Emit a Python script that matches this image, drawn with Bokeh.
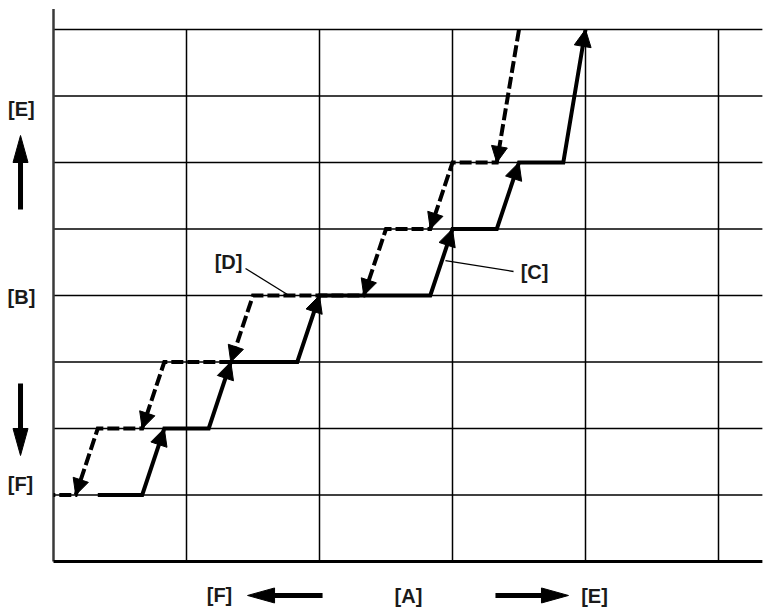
from bokeh.plotting import figure
from bokeh.models import Range1d, ColumnDataSource, Arrow, NormalHead, Label
from bokeh.embed import file_html
from bokeh.resources import INLINE

# ---- data (grid units) ----
x_grid = [1, 2, 3, 4, 5]
y_grid = [1, 2, 3, 4, 5, 6, 7, 8]
x_end = 5.33
y_top = 8.31

# solid curve [C] (rising)
solid_x = [0.333, 0.667, 0.833, 1.167, 1.333, 1.833, 2.0, 2.833, 3.0, 3.333, 3.5, 3.833, 4.0]
solid_y = [1, 1, 2, 2, 3, 3, 4, 4, 5, 5, 6, 6, 8]

# dashed curve [D] (falling)
dash_x = [3.5, 3.333, 3.0, 2.833, 2.5, 2.333, 1.5, 1.333, 0.833, 0.667, 0.333, 0.167, 0.0]
dash_y = [8, 6, 6, 5, 5, 4, 4, 3, 3, 2, 2, 1, 1]

side_labels = ["[E]", "[B]", "[F]"]
bottom_labels = ["[F]", "[A]", "[E]"]

# pixel scale (px per unit)
PX_X = 133.0
PX_Y = 66.5
W, H = 768, 610

p = figure(width=W, height=H,
           x_range=Range1d(-53 / PX_X, (W - 53) / PX_X),
           y_range=Range1d((561 - H) / PX_Y, 561 / PX_Y),
           x_axis_type=None, y_axis_type=None,
           toolbar_location=None, output_backend="svg",
           min_border=0)
p.outline_line_color = None
p.grid.visible = False
p.background_fill_color = "white"
p.border_fill_color = "white"

# grid lines
p.segment(x0=[0] * len(y_grid), y0=y_grid, x1=[x_end] * len(y_grid), y1=y_grid,
          line_color="black", line_width=1.5)
p.segment(x0=x_grid, y0=[0] * len(x_grid), x1=x_grid, y1=[y_grid[-1]] * len(x_grid),
          line_color="black", line_width=1.5)
# axes
p.segment(x0=[0], y0=[0], x1=[0], y1=[y_top], line_color="#3a3a3a", line_width=2.5)
p.segment(x0=[0], y0=[0], x1=[x_end], y1=[0], line_color="black", line_width=3)

# curves
p.line(dash_x, dash_y, line_color="black", line_width=4, line_dash="12 4", line_join="miter")
p.line(solid_x, solid_y, line_color="black", line_width=4, line_join="miter")

def segs(xs, ys, rising):
    d = dict(x0=[], y0=[], x1=[], y1=[])
    for i in range(len(xs) - 1):
        if ys[i + 1] != ys[i] and ((ys[i + 1] > ys[i]) == rising):
            d["x0"].append(xs[i]); d["y0"].append(ys[i])
            d["x1"].append(xs[i + 1]); d["y1"].append(ys[i + 1])
    return ColumnDataSource(d)

for src, size in ((segs(solid_x, solid_y, True), 17), (segs(dash_x, dash_y, False), 16)):
    p.add_layout(Arrow(end=NormalHead(size=size, fill_color="black", line_color="black", line_width=1),
                       x_start="x0", y_start="y0", x_end="x1", y_end="y1",
                       source=src, line_alpha=0))

# leader lines
p.segment(x0=[1.444, 2.947], y0=[4.406, 4.526], x1=[1.759, 3.459], y1=[4.015, 4.361],
          line_color="black", line_width=1.3)

def txt(x, y, s):
    p.add_layout(Label(x=x, y=y, text=s, text_font="Liberation Sans", text_font_style="bold",
                       text_font_size="20px", text_align="center", text_baseline="middle",
                       text_color="#1a1a1a"))

txt(1.316, 4.511, "[D]")
txt(3.617, 4.346, "[C]")
txt(-0.241, 6.797, side_labels[0])
txt(-0.241, 3.97, side_labels[1])
txt(-0.248, 1.158, side_labels[2])
txt(1.248, -0.511, bottom_labels[0])
txt(2.669, -0.526, bottom_labels[1])
txt(4.068, -0.526, bottom_labels[2])

# direction arrows (shaft + triangle head, sizes in px)
def big_arrow(x_tail, y_tail, x_tip, y_tip, length=27, width=15):
    dxp = (x_tip - x_tail) * PX_X
    dyp = (y_tip - y_tail) * PX_Y
    n = (dxp ** 2 + dyp ** 2) ** 0.5
    ux, uy = dxp / n, dyp / n
    bx, by = -ux * length, -uy * length
    px, py = -uy * width / 2, ux * width / 2
    xb = x_tip + bx / PX_X
    yb = y_tip + by / PX_Y
    p.segment(x0=[x_tail], y0=[y_tail], x1=[xb], y1=[yb], line_color="black", line_width=5)
    p.patch([x_tip, xb + px / PX_X, xb - px / PX_X], [y_tip, yb + py / PX_Y, yb - py / PX_Y],
            fill_color="black", line_color="black", line_width=1)

big_arrow(-0.248, 5.293, -0.248, 6.406)
big_arrow(-0.248, 2.677, -0.248, 1.594)
big_arrow(2.023, -0.511, 1.459, -0.511)
big_arrow(3.323, -0.511, 3.872, -0.511)

open("out.html", "w").write(file_html(p, INLINE))
